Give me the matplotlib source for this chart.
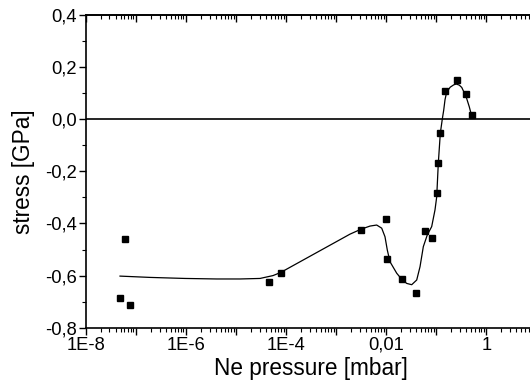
import numpy as np
import matplotlib
matplotlib.use("Agg")
import matplotlib.pyplot as plt
from matplotlib.ticker import FixedLocator, NullFormatter, FixedFormatter

plt.rcParams['font.family'] = ['Liberation Sans', 'DejaVu Sans']

# measured points: Ne pressure [mbar], stress [GPa]
pressure = [4.9e-8, 6.2e-8, 7.6e-8, 4.5e-5, 7.9e-5, 3.15e-3, 9.8e-3, 0.0103,
            0.0205, 0.0401, 0.0589, 0.0813, 0.102, 0.110, 0.121, 0.150,
            0.256, 0.388, 0.512]
stress = [-0.686, -0.458, -0.712, -0.623, -0.590, -0.424, -0.383, -0.536,
          -0.614, -0.667, -0.428, -0.456, -0.282, -0.167, -0.054, 0.110,
          0.151, 0.097, 0.016]

# fitted guide curve (log10 of pressure, stress)
curve_logp = [-7.311, -6.713, -6.014, -5.381, -4.916, -4.517, -4.257, -4.104,
              -2.721, -2.501, -2.321, -2.188, -2.088, -2.022, -1.976, -1.922,
              -1.788, -1.689, -1.589, -1.489, -1.389, -1.323, -1.257, -1.178,
              -1.090, -1.024, -0.990, -0.958, -0.918, -0.878, -0.850, -0.824,
              -0.790, -0.720, -0.650, -0.600, -0.540, -0.490, -0.404, -0.340,
              -0.291]
curve_stress = [-0.602, -0.607, -0.611, -0.613, -0.613, -0.611, -0.600, -0.588,
                -0.441, -0.422, -0.410, -0.406, -0.418, -0.451, -0.502, -0.547,
                -0.591, -0.614, -0.630, -0.635, -0.617, -0.566, -0.489, -0.444,
                -0.412, -0.348, -0.298, -0.169, -0.054, 0.001, 0.035, 0.075,
                0.105, 0.123, 0.132, 0.135, 0.131, 0.122, 0.087, 0.048,
                0.012]

x_ticks = [1e-8, 1e-6, 1e-4, 1e-2, 1]
x_ticklabels = ["1E-8", "1E-6", "1E-4", "0,01", "1"]
y_ticks = [-0.8, -0.6, -0.4, -0.2, 0.0, 0.2, 0.4]
y_ticklabels = ["-0,8", "-0,6", "-0,4", "-0,2", "0,0", "0,2", "0,4"]

fig = plt.figure(figsize=(5.30, 3.87), dpi=100)
ax = fig.add_axes([85.5 / 530, 59.3 / 387, 450.9 / 530, 312.7 / 387])

ax.set_xscale('log')
ax.set_xlim(1e-8, 10)
ax.set_ylim(-0.8, 0.4)

ax.axhline(0, color='black', lw=1.2, zorder=1)
ax.plot(10 ** np.array(curve_logp), curve_stress, color='black', lw=0.9, zorder=2)
ax.plot(pressure, stress, linestyle='none', marker='s', color='black',
        markersize=5.0, zorder=3)

# ticks
major_x = [10.0 ** k for k in range(-8, 2)]
minor_x = [m * 10.0 ** k for k in range(-8, 1) for m in range(2, 10)]
labels_x = []
for t in major_x:
    lbl = ""
    for k, l in zip(x_ticks, x_ticklabels):
        if abs(np.log10(t) - np.log10(k)) < 1e-6:
            lbl = l
    labels_x.append(lbl)
ax.xaxis.set_major_locator(FixedLocator(major_x))
ax.xaxis.set_minor_locator(FixedLocator(minor_x))
ax.xaxis.set_major_formatter(FixedFormatter(labels_x))
ax.xaxis.set_minor_formatter(NullFormatter())

ax.set_yticks(y_ticks)
ax.set_yticklabels(y_ticklabels)
ax.yaxis.set_minor_locator(FixedLocator([-0.7, -0.5, -0.3, -0.1, 0.1, 0.3]))

ax.tick_params(axis='both', which='major', labelsize=13.2, width=1.0, length=5,
               direction='out', pad=1.5)
ax.tick_params(axis='both', which='minor', width=0.8, length=3, direction='out')
ax.tick_params(axis='x', which='both', top=False)
ax.tick_params(axis='y', which='both', right=False)

# top axis with inward ticks
sec = ax.secondary_xaxis('top')
sec.xaxis.set_major_locator(FixedLocator(major_x))
sec.xaxis.set_minor_locator(FixedLocator(minor_x))
sec.xaxis.set_major_formatter(NullFormatter())
sec.xaxis.set_minor_formatter(NullFormatter())
sec.tick_params(which='major', direction='in', length=5, width=1.0)
sec.tick_params(which='minor', direction='in', length=3, width=0.8)
sec.spines['top'].set_linewidth(1.2)

for s in ax.spines.values():
    s.set_linewidth(1.2)

ax.set_xlabel("Ne pressure [mbar]", fontsize=16.3, labelpad=2)
ax.set_ylabel("stress [GPa]", fontsize=16.3, labelpad=7)

fig.savefig("out.png", dpi=100)
